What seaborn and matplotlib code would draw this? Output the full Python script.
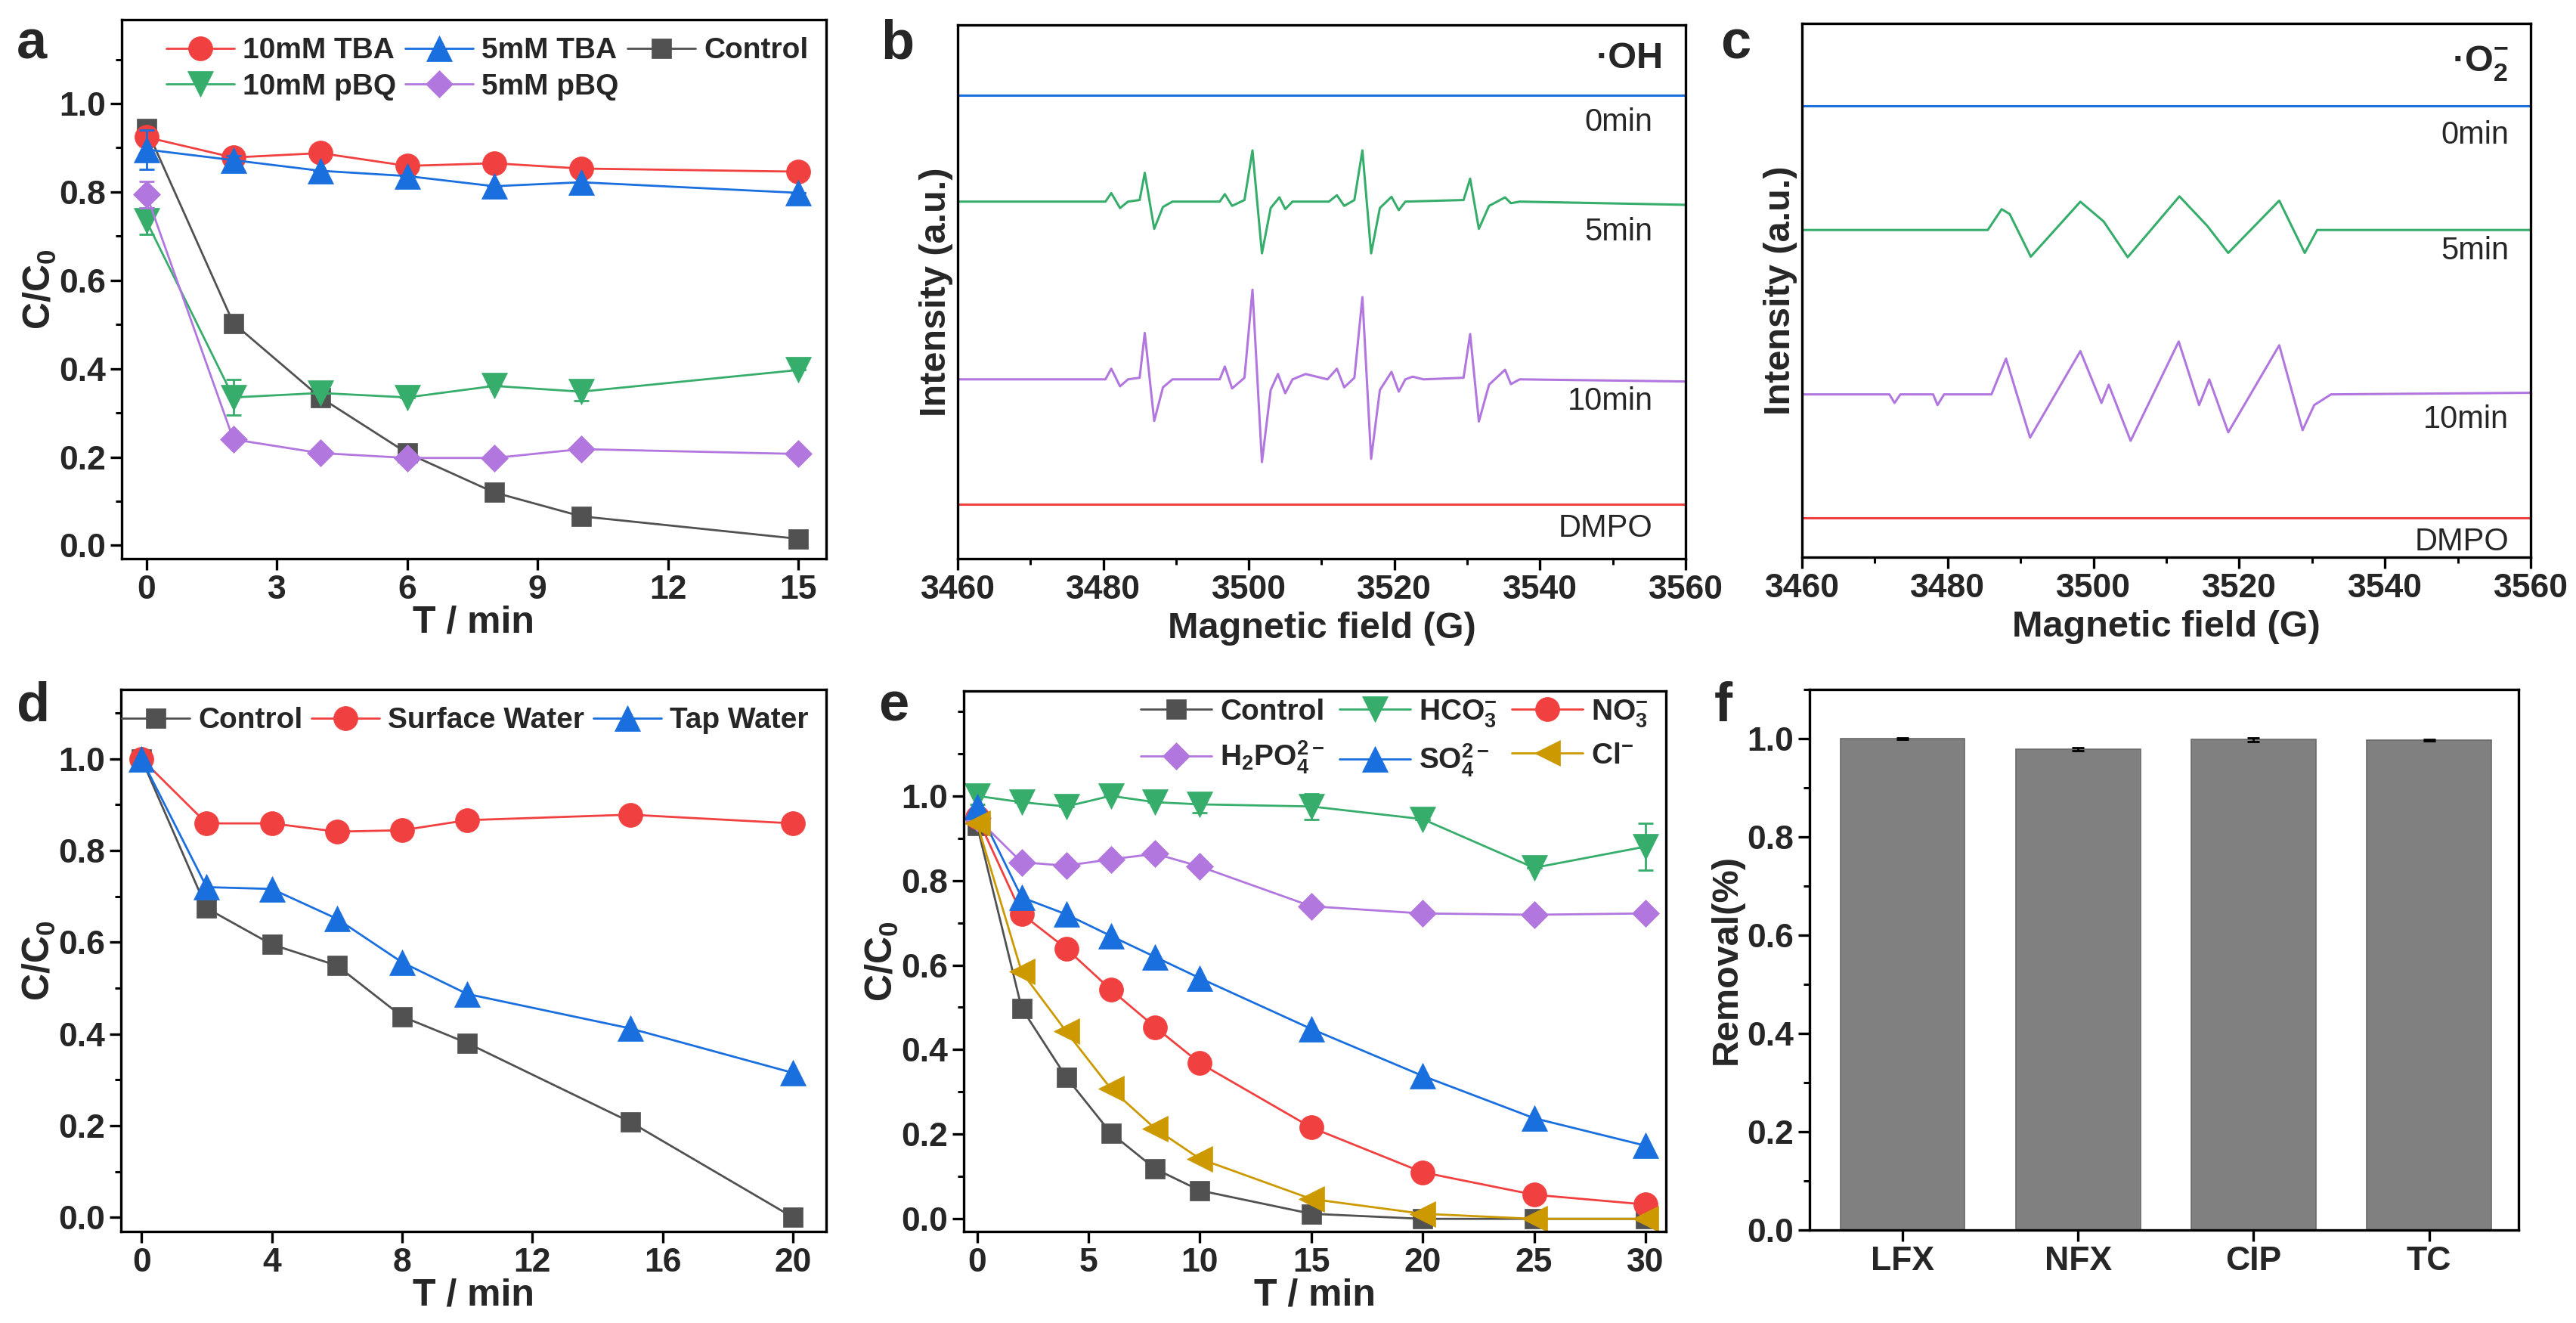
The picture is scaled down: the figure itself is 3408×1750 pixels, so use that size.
import numpy as np
import pandas as pd
import matplotlib
matplotlib.use("Agg")
import matplotlib.pyplot as plt
from matplotlib.ticker import MultipleLocator
import seaborn as sns

# ---------------- data ----------------
# (a) scavenger experiments
t_a = [0, 2, 4, 6, 8, 10, 15]
a_tba10 = [0.924, 0.878, 0.888, 0.859, 0.865, 0.853, 0.846]
a_tba5 = [0.896, 0.872, 0.848, 0.836, 0.813, 0.822, 0.798]
a_control = [0.943, 0.503, 0.335, 0.209, 0.120, 0.066, 0.015]
a_pbq10 = [0.734, 0.335, 0.345, 0.335, 0.361, 0.348, 0.397]
a_pbq5 = [0.794, 0.240, 0.209, 0.198, 0.198, 0.218, 0.207]
a_tba10_err = [0.02, 0.01, 0, 0.01, 0, 0, 0]
a_tba5_err = [0.045, 0.01, 0, 0, 0, 0, 0]
a_pbq10_err = [0.03, 0.04, 0, 0, 0, 0.02, 0]
a_pbq5_err = [0.03, 0, 0, 0, 0, 0, 0]

# (b) DMPO-OH spectra: (field G, relative intensity) vertices
b_0min = [(3460, 0), (3560, 0)]
b_5min = [(3460, 0), (3480.3, 0), (3481.1, 1.6), (3482.3, -1.2), (3483.4, 0), (3485.0, 0.3),
          (3485.7, 5.4), (3487.0, -5.1), (3488.2, -1.0), (3489.5, 0), (3496.0, 0), (3496.7, 1.4),
          (3497.7, -0.8), (3499.4, 0.3), (3500.5, 9.6), (3501.8, -9.7), (3503.0, -1.2), (3504.2, 0.8),
          (3505.0, -1.4), (3506.0, 0), (3511.0, 0), (3512.1, 1.2), (3513.1, -0.8), (3514.5, 0.3),
          (3515.6, 9.6), (3516.8, -9.7), (3518.0, -1.2), (3519.6, 0.9), (3520.6, -1.6), (3521.5, 0),
          (3529.5, 0.3), (3530.4, 4.3), (3531.6, -5.1), (3533.0, -0.8), (3535.2, 0.8), (3536.0, -0.3),
          (3537.2, 0), (3560, -0.6)]
b_10min = [(3460, 0), (3480.3, 0), (3481.1, 2.0), (3482.3, -1.3), (3483.4, 0), (3485.0, 0.3),
           (3485.7, 8.7), (3487.0, -7.8), (3488.2, -1.5), (3489.5, 0), (3496.0, 0), (3496.7, 2.4),
           (3497.7, -1.7), (3499.4, 0.3), (3500.5, 16.8), (3501.8, -15.5), (3503.0, -2.0), (3504.0, 1.0),
           (3505.0, -2.6), (3506.0, 0), (3507.8, 1.0), (3510.8, 0), (3512.1, 2.0), (3513.1, -1.5),
           (3514.5, 0.3), (3515.6, 15.4), (3516.8, -14.9), (3518.0, -2.0), (3519.6, 1.4), (3520.6, -2.3),
           (3521.5, 0), (3522.5, 0.5), (3524.0, 0), (3529.5, 0.3), (3530.4, 8.5), (3531.6, -7.9),
           (3533.0, -1.0), (3535.2, 1.8), (3536.0, -0.9), (3537.2, 0), (3560, -0.4)]
b_dmpo = [(3460, 0), (3560, 0)]

# (c) DMPO-O2- spectra
c_0min = [(3460, 0), (3560, 0)]
c_5min = [(3460, 0), (3485.5, 0), (3487.4, 3.9), (3488.5, 3.0), (3491.4, -5.0), (3498.2, 5.3),
          (3501.4, 1.6), (3504.7, -5.1), (3511.8, 6.3), (3515.6, 0.8), (3518.5, -4.3), (3525.5, 5.5),
          (3529.0, -4.3), (3530.7, 0), (3560, 0)]
c_10min = [(3460, 0), (3472.0, 0), (3472.7, -1.6), (3473.5, 0), (3478.0, 0), (3478.6, -2.0),
           (3479.5, 0), (3486.0, 0), (3488.0, 6.7), (3491.3, -8.1), (3498.2, 8.1), (3501.1, -1.6),
           (3502.1, 1.8), (3505.1, -8.7), (3511.7, 9.9), (3514.5, -2.0), (3515.9, 2.8), (3518.5, -7.1),
           (3525.5, 9.2), (3528.7, -6.7), (3530.3, -2.0), (3532.6, 0), (3560, 0.3)]
c_dmpo = [(3460, 0), (3560, 0)]

# (d) real water matrices
t_d = [0, 2, 4, 6, 8, 10, 15, 20]
d_control = [1.0, 0.674, 0.595, 0.549, 0.438, 0.380, 0.208, 0.0]
d_surface = [1.0, 0.859, 0.859, 0.841, 0.844, 0.866, 0.878, 0.859]
d_tap = [1.0, 0.72, 0.716, 0.651, 0.556, 0.487, 0.412, 0.315]

# (e) coexisting anions
t_e = [0, 2, 4, 6, 8, 10, 15, 20, 25, 30]
e_control = [0.93, 0.498, 0.335, 0.203, 0.118, 0.067, 0.012, 0.0, 0.0, 0.0]
e_hco3 = [1.0, 0.985, 0.975, 1.0, 0.985, 0.98, 0.975, 0.945, 0.83, 0.88]
e_no3 = [0.95, 0.721, 0.639, 0.542, 0.453, 0.368, 0.216, 0.110, 0.057, 0.034]
e_h2po4 = [0.947, 0.843, 0.835, 0.850, 0.863, 0.833, 0.739, 0.722, 0.719, 0.722]
e_so4 = [0.975, 0.76, 0.72, 0.669, 0.619, 0.569, 0.449, 0.338, 0.238, 0.173]
e_cl = [0.935, 0.584, 0.443, 0.308, 0.213, 0.142, 0.047, 0.012, 0.0, 0.0]
e_hco3_err = [0.02, 0, 0, 0, 0, 0.02, 0.03, 0, 0, 0.055]

# (f) different antibiotics
f_names = ["LFX", "NFX", "CIP", "TC"]
f_removal = [1.0, 0.979, 0.998, 0.997]
f_err = [0.002, 0.003, 0.004, 0.002]

# ---------------- style ----------------
RED, BLUE, GRAY, GREEN, PURPLE, GOLD = "#F14040", "#1A6FDF", "#515151", "#37AD6B", "#B177DE", "#CC9900"

sns.set_theme(style="ticks")
plt.rcParams["font.family"] = ["Liberation Sans", "DejaVu Sans"]
plt.rcParams["font.weight"] = "bold"
plt.rcParams["axes.labelweight"] = "bold"
plt.rcParams["mathtext.fontset"] = "custom"
plt.rcParams["mathtext.rm"] = "Liberation Sans:bold"
plt.rcParams["mathtext.bf"] = "Liberation Sans:bold"
plt.rcParams["mathtext.it"] = "Liberation Sans:bold"
plt.rcParams["mathtext.default"] = "bf"

W, H = 3408, 1750
fig = plt.figure(figsize=(W / 100, H / 100), dpi=100)


def box(l, t, r, b):
    return fig.add_axes([l / W, 1 - b / H, (r - l) / W, (b - t) / H])


def style(ax, ticks_y=True):
    for s in ax.spines.values():
        s.set_linewidth(2.4)
        s.set_color("black")
    ax.tick_params(which="major", direction="out", length=11, width=2.4, labelsize=32, pad=4,
                   color="black")
    ax.tick_params(which="minor", direction="out", length=6, width=2.2, color="black")
    if not ticks_y:
        ax.tick_params(axis="y", which="both", left=False, labelleft=False)


def series(ax, x, y, color, marker, label, ms=20, err=None):
    sns.lineplot(x=x, y=y, ax=ax, color=color, marker=marker, markersize=ms, markeredgecolor=color,
                 markeredgewidth=0.5, linewidth=2.0, label=label, errorbar=None)
    if err is not None:
        ax.errorbar(x, y, yerr=err, fmt="none", ecolor=color, elinewidth=2, capsize=7, capthick=2)


def legend(ax, handles_order, ncol, anchor, colsp=0.3, labsp=0.3, hl=2.3):
    h, l = ax.get_legend_handles_labels()
    lut = dict(zip(l, h))
    ax.legend([lut[k] for k in handles_order], handles_order, ncol=ncol, loc="upper right",
              bbox_to_anchor=anchor, frameon=False, fontsize=28, handlelength=hl,
              handletextpad=0.3, columnspacing=colsp, labelspacing=labsp, borderaxespad=0.2)


def kinetic_axes(ax, xlim, ylim, xmaj):
    ax.set_xlim(*xlim)
    ax.set_ylim(*ylim)
    ax.xaxis.set_major_locator(MultipleLocator(xmaj))
    ax.yaxis.set_major_locator(MultipleLocator(0.2))
    ax.yaxis.set_minor_locator(MultipleLocator(0.1))
    ax.set_yticks(np.arange(0, 1.01, 0.2))
    ax.set_xlabel("T / min", fontsize=36, labelpad=0)
    ax.set_ylabel("C/C$_0$", fontsize=36, labelpad=1)
    style(ax)


# ---------------- (a) ----------------
ax = box(161, 26, 1093, 739)
series(ax, t_a, a_control, GRAY, "s", "Control", ms=19)
series(ax, t_a, a_tba10, RED, "o", "10mM TBA", ms=23, err=a_tba10_err)
series(ax, t_a, a_tba5, BLUE, "^", "5mM TBA", ms=25, err=a_tba5_err)
series(ax, t_a, a_pbq10, GREEN, "v", "10mM pBQ", ms=25, err=a_pbq10_err)
series(ax, t_a, a_pbq5, PURPLE, "D", "5mM pBQ", ms=18, err=a_pbq5_err)
kinetic_axes(ax, (-0.57, 15.64), (-0.03, 1.19), 3)
ax.yaxis.set_minor_locator(MultipleLocator(0.1))
legend(ax, ["10mM TBA", "10mM pBQ", "5mM TBA", "5mM pBQ", "Control"], 3, (1.0, 1.0))


# ---------------- (b), (c) EPR ----------------
def epr(ax, traces, offsets, labels_y, label_x, tag, tag_y):
    colors = {"0min": BLUE, "5min": GREEN, "10min": PURPLE, "DMPO": RED}
    for name, pts in traces.items():
        df = pd.DataFrame(pts, columns=["field", "intensity"])
        df["intensity"] = df["intensity"] + offsets[name]
        sns.lineplot(data=df, x="field", y="intensity", ax=ax, color=colors[name], linewidth=2.2,
                     sort=False, errorbar=None)
        ax.text(label_x, labels_y[name], name, ha="right", va="center", fontsize=30,
                fontweight="normal")
    ax.text(3557, tag_y, tag, ha="right", va="center", fontsize=35, fontweight="bold")
    ax.set_xlim(3460, 3560)
    ax.set_ylim(0, 100)
    ax.xaxis.set_major_locator(MultipleLocator(20))
    ax.xaxis.set_minor_locator(MultipleLocator(10))
    ax.set_xlabel("Magnetic field (G)", fontsize=35, labelpad=6)
    ax.set_ylabel("Intensity (a.u.)", fontsize=35, labelpad=4)
    style(ax, ticks_y=False)


ax = box(1267, 33, 2230, 739)
epr(ax, {"0min": b_0min, "5min": b_5min, "10min": b_10min, "DMPO": b_dmpo},
    {"0min": 86.8, "5min": 66.9, "10min": 33.6, "DMPO": 10.2},
    {"0min": 81.7, "5min": 61.2, "10min": 29.5, "DMPO": 5.7}, 3555.5, "·OH", 93.7)

ax = box(2384, 31, 3348, 737)
epr(ax, {"0min": c_0min, "5min": c_5min, "10min": c_10min, "DMPO": c_dmpo},
    {"0min": 84.6, "5min": 61.3, "10min": 30.5, "DMPO": 7.4},
    {"0min": 79.1, "5min": 57.4, "10min": 25.8, "DMPO": 2.9}, 3557, "·O$_2^{-}$", 92.5)

# ---------------- (d) ----------------
ax = box(160, 912, 1093, 1629)
series(ax, t_d, d_control, GRAY, "s", "Control", ms=19)
series(ax, t_d, d_surface, RED, "o", "Surface Water", ms=23)
series(ax, t_d, d_tap, BLUE, "^", "Tap Water", ms=25)
kinetic_axes(ax, (-0.63, 21.02), (-0.031, 1.151), 4)
legend(ax, ["Control", "Surface Water", "Tap Water"], 3, (1.0, 1.0))

# ---------------- (e) ----------------
ax = box(1275, 914, 2204, 1629)
series(ax, t_e, e_control, GRAY, "s", "Control", ms=19)
series(ax, t_e, e_hco3, GREEN, "v", "HCO$_3^{-}$", ms=25, err=e_hco3_err)
series(ax, t_e, e_no3, RED, "o", "NO$_3^{-}$", ms=23)
series(ax, t_e, e_h2po4, PURPLE, "D", "H$_2$PO$_4^{2-}$", ms=18)
series(ax, t_e, e_so4, BLUE, "^", "SO$_4^{2-}$", ms=25)
series(ax, t_e, e_cl, GOLD, "<", "Cl$^{-}$", ms=25)
kinetic_axes(ax, (-0.6, 30.92), (-0.03, 1.248), 5)
legend(ax, ["Control", "H$_2$PO$_4^{2-}$", "HCO$_3^{-}$", "SO$_4^{2-}$", "NO$_3^{-}$", "Cl$^{-}$"],
       3, (1.0, 1.02), colsp=0.5, labsp=0.45, hl=2.4)

# ---------------- (f) ----------------
ax = box(2394, 912, 3332, 1627)
fdf = pd.DataFrame({"name": f_names, "removal": f_removal})
sns.barplot(data=fdf, x="name", y="removal", ax=ax, color="#808080", width=0.71, errorbar=None,
            saturation=1, edgecolor="#6a6a6a", linewidth=1.2)
ax.errorbar(range(len(f_names)), f_removal, yerr=f_err, fmt="none", ecolor="black", elinewidth=2,
            capsize=6, capthick=2)
ax.set_xlim(-0.53, 3.51)
ax.set_ylim(0, 1.1)
ax.yaxis.set_major_locator(MultipleLocator(0.2))
ax.yaxis.set_minor_locator(MultipleLocator(0.1))
ax.set_yticks(np.arange(0, 1.01, 0.2))
ax.set_xlabel("")
ax.set_ylabel("Removal(%)", fontsize=35, labelpad=3)
style(ax)

# panel letters
for letter, x, y in [("a", 22, 78), ("b", 1165, 78), ("c", 2276, 78),
                     ("d", 22, 954), ("e", 1162, 954), ("f", 2268, 954)]:
    fig.text(x / W, 1 - y / H, letter, fontsize=52, fontweight="bold", va="baseline", ha="left")

fig.savefig("out.png", dpi=100, facecolor="white")
